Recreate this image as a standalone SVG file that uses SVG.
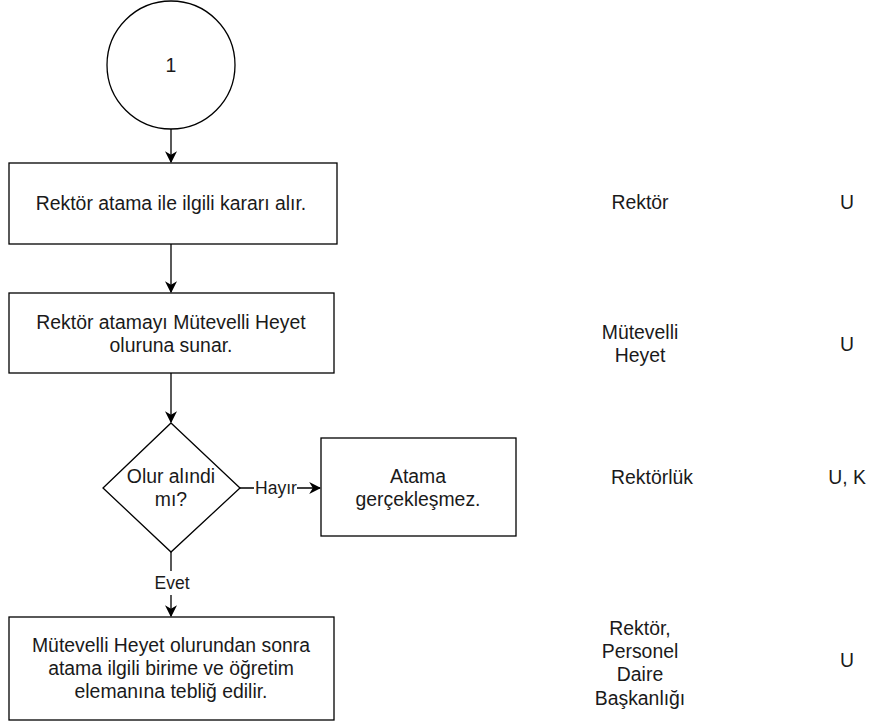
<svg xmlns="http://www.w3.org/2000/svg" width="869" height="728" viewBox="0 0 869 728">
<style>
.s{fill:#fff;stroke:#000;stroke-width:1.3}
.t{font-family:"Liberation Sans",Arial,sans-serif;font-size:19.4px;fill:#1a1a1a;text-anchor:middle;dominant-baseline:central}
.l{font-family:"Liberation Sans",Arial,sans-serif;font-size:17.5px;fill:#1a1a1a;text-anchor:middle;dominant-baseline:central}
.c{fill:none;stroke:#000;stroke-width:1.3}
</style>
<defs>
<marker id="a" viewBox="0 0 10 10" refX="9" refY="5" markerWidth="12" markerHeight="12" markerUnits="userSpaceOnUse" orient="auto">
<path d="M0,0 L10,5 L0,10 L3,5 Z" fill="#000"/>
</marker>
</defs>
<g id="connectors">
<line class="c" x1="171" y1="129" x2="171" y2="162" marker-end="url(#a)"/>
<line class="c" x1="171" y1="244" x2="171" y2="292" marker-end="url(#a)"/>
<line class="c" x1="171" y1="373" x2="171" y2="422" marker-end="url(#a)"/>
<path class="c" d="M240,488 H254 M297,488 H320" marker-end="url(#a)"/>
<text class="l" x="276" y="488">Hayır</text>
<path class="c" d="M171,552 V571 M171,595 V616" marker-end="url(#a)"/>
<text class="l" x="172" y="583">Evet</text>
</g>
<g id="start">
<circle class="s" cx="171" cy="65" r="64"/>
<text class="t" x="171" y="65">1</text>
</g>
<g id="step1">
<rect class="s" x="9" y="163" width="328" height="81"/>
<text class="t" x="171" y="203">Rektör atama ile ilgili kararı alır.</text>
</g>
<g id="step2">
<rect class="s" x="9" y="293" width="325" height="80"/>
<text class="t" x="171" y="322">Rektör atamayı Mütevelli Heyet</text>
<text class="t" x="171" y="345">oluruna sunar.</text>
</g>
<g id="decision">
<polygon class="s" points="171,423 240,488 171,552 103,488"/>
<text class="t" x="171" y="476">Olur alındi</text>
<text class="t" x="171" y="499">mı?</text>
</g>
<g id="noop">
<rect class="s" x="321" y="438" width="195" height="98"/>
<text class="t" x="418" y="476">Atama</text>
<text class="t" x="418" y="499">gerçekleşmez.</text>
</g>
<g id="step3">
<rect class="s" x="9" y="617" width="325" height="103"/>
<text class="t" x="171" y="645">Mütevelli Heyet olurundan sonra</text>
<text class="t" x="171" y="668">atama ilgili birime ve öğretim</text>
<text class="t" x="171" y="691">elemanına tebliğ edilir.</text>
</g>
<g id="resp1">
<text class="t" x="640" y="202">Rektör</text>
<text class="t" x="847" y="202">U</text>
</g>
<g id="resp2">
<text class="t" x="640" y="332">Mütevelli</text>
<text class="t" x="640" y="355">Heyet</text>
<text class="t" x="847" y="344">U</text>
</g>
<g id="resp3">
<text class="t" x="652" y="477">Rektörlük</text>
<text class="t" x="847" y="477">U, K</text>
</g>
<g id="resp4">
<text class="t" x="640" y="628">Rektör,</text>
<text class="t" x="640" y="651">Personel</text>
<text class="t" x="640" y="674">Daire</text>
<text class="t" x="640" y="698">Başkanlığı</text>
<text class="t" x="847" y="660">U</text>
</g>
</svg>
